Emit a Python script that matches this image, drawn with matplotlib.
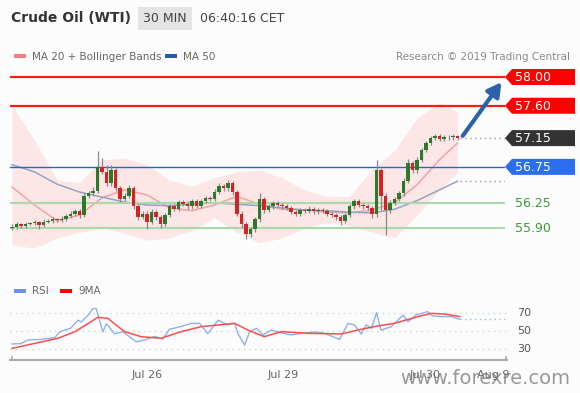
import numpy as np
import matplotlib
matplotlib.use("Agg")
import matplotlib.pyplot as plt
from matplotlib.patches import Rectangle, Polygon

# --- data (30 min bars) ---
first_open = 55.90
closes = [55.92, 55.95, 55.93, 55.96, 55.97, 55.98, 55.94, 55.99, 56.00, 56.02,
          56.01, 56.03, 56.07, 56.10, 56.13, 56.08, 56.35, 56.38, 56.42, 56.75,
          56.68, 56.52, 56.70, 56.45, 56.30, 56.35, 56.45, 56.20, 56.05, 56.10,
          55.98, 56.12, 56.05, 55.96, 56.08, 56.20, 56.16, 56.26, 56.24, 56.20,
          56.27, 56.21, 56.28, 56.32, 56.30, 56.40, 56.48, 56.45, 56.52, 56.40,
          56.10, 55.95, 55.82, 55.88, 56.02, 56.30, 56.15, 56.20, 56.25, 56.22,
          56.20, 56.18, 56.12, 56.10, 56.15, 56.14, 56.16, 56.13, 56.15, 56.14,
          56.10, 56.08, 56.05, 56.00, 56.08, 56.20, 56.28, 56.22, 56.20, 56.18,
          56.10, 56.70, 56.35, 56.15, 56.25, 56.30, 56.38, 56.55, 56.80, 56.70,
          56.85, 56.98, 57.08, 57.15, 57.18, 57.14, 57.17, 57.16, 57.18, 57.15]
# wick lengths beyond the body, in cents
hi_wick = [3, 3, 2, 3, 2, 3, 2, 3, 2, 3, 2, 3, 3, 3, 4, 3, 4, 3, 5, 22,
           12, 10, 8, 4, 3, 4, 5, 3, 3, 3, 3, 4, 3, 3, 3, 4, 3, 3, 3, 3,
           3, 3, 3, 3, 3, 4, 4, 3, 5, 3, 3, 3, 3, 3, 3, 8, 3, 3, 3, 3,
           3, 3, 3, 3, 3, 3, 4, 3, 3, 3, 3, 3, 3, 3, 3, 4, 3, 3, 3, 3,
           3, 15, 4, 3, 4, 3, 4, 4, 6, 3, 4, 3, 3, 3, 3, 3, 3, 2, 3, 2]
lo_wick = [3, 3, 3, 3, 2, 3, 5, 3, 2, 3, 3, 3, 3, 3, 3, 4, 3, 3, 3, 3,
           3, 4, 3, 4, 4, 3, 3, 4, 4, 3, 10, 3, 4, 6, 3, 3, 3, 3, 3, 3,
           3, 3, 3, 3, 3, 3, 3, 3, 3, 4, 4, 5, 8, 4, 3, 3, 4, 3, 3, 3,
           3, 3, 3, 3, 3, 3, 3, 3, 3, 3, 3, 3, 4, 6, 3, 3, 3, 3, 3, 3,
           6, 5, 20, 35, 4, 3, 3, 3, 3, 4, 3, 3, 3, 3, 3, 3, 3, 3, 3, 3]

# indicators sampled every 5 bars
ind_idx = [0, 5, 10, 15, 20, 25, 30, 35, 40, 45, 50, 55, 60, 65, 70, 75, 80, 85, 90, 95, 99]
ma50 = [56.78, 56.68, 56.51, 56.40, 56.33, 56.26, 56.22, 56.21, 56.23, 56.25, 56.23,
        56.21, 56.18, 56.15, 56.14, 56.12, 56.11, 56.16, 56.28, 56.43, 56.55]
ma20 = [56.47, 56.22, 56.00, 56.08, 56.32, 56.43, 56.36, 56.18, 56.14, 56.22, 56.34,
        56.23, 56.16, 56.15, 56.12, 56.11, 56.15, 56.25, 56.50, 56.85, 57.08]
bb_upper = [57.61, 57.12, 56.57, 56.53, 56.85, 56.87, 56.78, 56.57, 56.48, 56.60, 56.68,
            56.71, 56.60, 56.43, 56.34, 56.34, 56.71, 56.98, 57.43, 57.64, 57.51]
bb_lower = [55.66, 55.62, 55.76, 55.84, 55.90, 55.83, 55.73, 55.76, 55.87, 56.04, 55.84,
            55.69, 55.76, 55.90, 55.98, 55.93, 55.84, 55.76, 56.08, 56.43, 56.68]

rsi_idx = [0, 2, 3.5, 6.5, 9.5, 10.6, 13, 14.7, 15.4, 17, 18, 18.7, 20.2, 21, 22.8,
           24.7, 26, 27.6, 29.5, 31.7, 33.5, 35, 37.6, 39.8, 41.7, 43.5, 45.8, 48,
           49.5, 50.2, 51.7, 52.8, 54.3, 55.8, 57.6, 59.8, 62, 64.3, 67.3, 69.5,
           71.3, 72.8, 74.7, 76.1, 77.6, 78.7, 79.9, 81, 82, 84.3, 86.9, 88, 89.8,
           92.4, 93.5, 95.4, 97.6, 99.5]
rsi = [35.6, 36, 40, 40.7, 42.6, 49, 53, 62, 60, 68, 75, 75, 49, 58, 47,
       49, 44, 38, 40, 44, 41, 52, 55, 58.5, 58.5, 47, 62, 56.7,
       58.5, 47, 34.4, 49, 53, 45.6, 51, 48, 45.6, 47.4, 49, 47.4,
       43.7, 40.7, 58.5, 56.7, 46.7, 56.7, 53, 70.4, 51, 54.8, 67.8, 60.4, 67.8,
       71.5, 66.7, 66, 66, 63]
rsi_ma_idx = [0, 10.2, 14, 19.1, 21.3, 25, 28.7, 33.1, 37.6, 42, 49.5, 52.4, 56.1,
              59.8, 65.8, 73.2, 77.6, 81.3, 85, 90.2, 93.2, 96.1, 99.5]
rsi_ma = [30.7, 41.9, 49.3, 65.2, 64, 49.3, 43.7, 41.9, 49.3, 54.8, 58.5, 51, 43.7,
          49.3, 47.4, 46.7, 51.9, 55.6, 58.5, 66, 69.6, 68.9, 66]

levels_red = [58.00, 57.60]
level_last = 57.15
level_blue = 56.75
levels_green = [56.25, 55.90]
x_ticks = [30, 60.2, 91.8, 106.9]
x_labels = ["Jul 26", "Jul 29", "Jul 30", "Aug 9"]

W, H = 580, 393
fig = plt.figure(figsize=(W / 100, H / 100), dpi=100, facecolor="#fcfcfc")

def px(x, y):
    # pixel position -> figure fraction
    return x / W, 1 - y / H

def bar_of(xp):
    return (xp - 12) / 4.5

def price_of(yp):
    return 58.0 - (yp - 77) / 71.9

# --- price panel ---
ax = fig.add_axes([10 / W, 1 - 255 / H, 495 / W, 193 / H])
ax.set_xlim(bar_of(10), bar_of(505))
ax.set_ylim(price_of(255), price_of(62))
ax.axis("off")

ax.fill_between(ind_idx, bb_lower, bb_upper, color="#fcdede", alpha=0.7, lw=0)
ax.plot(ind_idx, ma20, color="#f3a3a3", lw=1.1)
ax.plot(ind_idx, ma50, color="#8ea5c6", lw=1.1)

closes = np.array(closes)
opens = np.r_[first_open, closes[:-1]]
idx = np.arange(len(closes))
top = np.maximum(opens, closes)
bot = np.minimum(opens, closes)
highs = top + np.array(hi_wick) / 100
lows = bot - np.array(lo_wick) / 100
ax.vlines(idx, lows, highs, color="#8a8a8a", lw=0.9, zorder=3)
cols = np.where(closes >= opens, "#2b7a2b", "#d42323")
ax.bar(idx, np.maximum(top - bot, 0.012), bottom=bot, width=0.72, color=cols, lw=0, zorder=4)

xr = bar_of(506)
for lv in levels_red:
    ax.plot([ax.get_xlim()[0], xr], [lv, lv], color="#ff1a1a", lw=1.6, zorder=2)
ax.plot([ax.get_xlim()[0], xr], [level_blue, level_blue], color="#2a62d6", lw=1.0, zorder=2)
for lv in levels_green:
    ax.plot([ax.get_xlim()[0], xr], [lv, lv], color="#a9d8a9", lw=1.5, zorder=2)
ax.plot([idx[-1] + 0.5, xr], [level_last, level_last], color="#999999", lw=1, ls=(0, (1, 2.5)))
ax.plot([idx[-1] + 0.5, xr], [ma50[-1], ma50[-1]], color="#999999", lw=1, ls=(0, (1, 2.5)))

ax.annotate("", xy=(bar_of(503), price_of(80)), xytext=(idx[-1] + 0.8, level_last),
            arrowprops=dict(arrowstyle="-|>,head_width=0.45,head_length=0.8",
                            color="#2c62a8", lw=3), annotation_clip=False, zorder=6)

# value tags on the right
def tag(yp, label, face, txtcol="white", box=True):
    if box:
        poly = Polygon([px(505, yp), px(512, yp - 8), px(575, yp - 8),
                        px(575, yp + 8), px(512, yp + 8)], closed=True,
                       transform=fig.transFigure, facecolor=face, edgecolor="none")
        fig.patches.append(poly)
    fig.text(*px(515, yp + 0.5), label, color=txtcol, fontsize=9, va="center", ha="left")

def ypix(price):
    return 77 + (58.0 - price) * 71.9

for lv in levels_red:
    tag(ypix(lv), f"{lv:.2f}", "#ff0000")
tag(ypix(level_last), f"{level_last:.2f}", "#333333")
tag(ypix(level_blue), f"{level_blue:.2f}", "#2a6ff0")
for lv in levels_green:
    tag(ypix(lv), f"{lv:.2f}", None, txtcol="#3a9a3a", box=False)

# --- RSI panel ---
rax = fig.add_axes([10 / W, 1 - 360 / H, 497 / W, 62 / H])
rax.set_xlim(bar_of(10), bar_of(507))
rax.set_ylim(50 - 29 / 0.9, 50 + 33 / 0.9)
rax.set_facecolor("none")
for s in ["top", "right", "left"]:
    rax.spines[s].set_visible(False)
rax.spines["bottom"].set_color("#aaaaaa")
rax.spines["bottom"].set_linewidth(1.5)
rax.set_yticks([])
rax.set_xticks(x_ticks)
rax.set_xticklabels(x_labels, fontsize=8, color="#666666")
rax.tick_params(axis="x", length=0, pad=7)
for g in [30, 50, 70]:
    rax.axhline(g, color="#c8dcc8", lw=1, ls=(0, (1, 3)))
    fig.text(*px(517, 331 - (g - 50) * 0.9), str(g), fontsize=8, color="#555555", va="center")
rax.plot(rsi_idx, rsi, color="#8fb0ea", lw=1)
rax.plot(rsi_ma_idx, rsi_ma, color="#ff4d4d", lw=1.1)
rax.plot([rsi_idx[-1], bar_of(505)], [rsi[-1], rsi[-1]], color="#9ab8e0", lw=1, ls=(0, (1, 2.5)))
for xp in [12, 506]:
    rax.plot([bar_of(xp)] * 2, [rax.get_ylim()[0], rax.get_ylim()[0] + 3],
             color="#aaaaaa", lw=1.2, clip_on=False)

# --- header, legends ---
fig.text(*px(11, 18), "Crude Oil (WTI)", fontsize=10, fontweight="bold", color="#333333", va="center")
fig.patches.append(Rectangle(px(138, 30), 54 / W, 23 / H, transform=fig.transFigure,
                             facecolor="#e4e4e4", edgecolor="none"))
fig.text(*px(165, 18.5), "30 MIN", fontsize=9, color="#444444", va="center", ha="center")
fig.text(*px(200, 18.5), "06:40:16 CET", fontsize=9, color="#444444", va="center")

def swatch(xp, yp, color, label):
    fig.patches.append(Rectangle(px(xp, yp + 2), 12 / W, 4 / H, transform=fig.transFigure,
                                 facecolor=color, edgecolor="none"))
    fig.text(*px(xp + 18, yp + 0.5), label, fontsize=7.5, color="#666666", va="center")

swatch(14, 56, "#f77d7d", "MA 20 + Bollinger Bands")
swatch(165, 56, "#2b5aa8", "MA 50")
swatch(14, 291, "#6d93e0", "RSI")
swatch(60, 291, "#ff0000", "9MA")
fig.text(*px(570, 56.5), "Research \u00a9 2019 Trading Central", fontsize=7.5,
         color="#8a8a8a", va="center", ha="right")

fig.text(*px(570, 378), "www.forexre.com", fontsize=14, color="#777777", alpha=0.75,
         va="center", ha="right")

fig.savefig("out.png", dpi=100, facecolor=fig.get_facecolor())
